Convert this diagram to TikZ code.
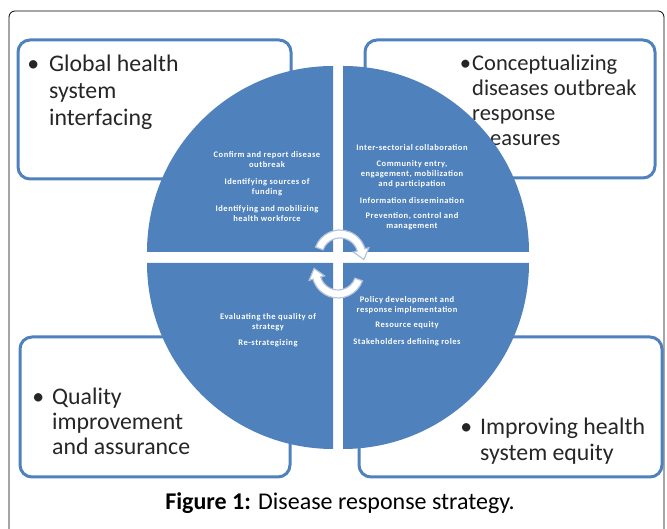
\documentclass[tikz,border=0pt]{standalone}
\usepackage{fontspec}
\setmainfont{Carlito}
\usetikzlibrary{calc}
\definecolor{pieblue}{HTML}{4F81BD}
\definecolor{turnedge}{HTML}{B4C4DC}

\begin{document}
\begin{tikzpicture}[x=1pt,y=1pt,
  box/.style={draw=pieblue, line width=3pt, rounded corners=12pt, fill=white},
  bigtext/.style={anchor=north west, inner sep=0pt, align=left, text=black!85},
  smalltext/.style={inner sep=0pt, align=center, text=white,
    font=\fontsize{8.5}{10}\selectfont\bfseries\addfontfeatures{LetterSpace=6}},
  turn/.style={fill=white, draw=turnedge, line width=1.2pt}]
\useasboundingbox (0,0) rectangle (667,529);
\draw[rounded corners=6pt, line width=0.8pt] (9,-10) rectangle (664,518);

\draw[box] (18,350) rectangle (291,489);
\draw[box] (365,351) rectangle (655,489);
\draw[box] (20,52) rectangle (290,192);
\draw[box] (359,52) rectangle (662,192);

\node[bigtext, font=\fontsize{23.8}{27}\selectfont] (global) at (49,474)
  {\llap{\textbullet\hspace{10pt}}Global health\\system\\interfacing};
\node[bigtext, font=\fontsize{22.5}{25}\selectfont] (concept) at (472,474)
  {\llap{\textbullet\hspace{1pt}}Conceptualizing\\diseases outbreak\\response\\measures};
\node[bigtext, font=\fontsize{23.8}{25}\selectfont] (quality) at (52,141)
  {\llap{\textbullet\hspace{8pt}}Quality\\improvement\\and assurance};
\node[bigtext, font=\fontsize{23.8}{26}\selectfont] (equity) at (480,111)
  {\llap{\textbullet\hspace{8pt}}Improving health\\system equity};

\fill[pieblue] (333,277) -- ++(-186,0) arc (180:90:186pt) -- cycle;
\fill[pieblue] (343,277) -- ++(186,0) arc (0:90:186pt) -- cycle;
\fill[pieblue] (333,266) -- ++(-186,0) arc (180:270:186pt) -- cycle;
\fill[pieblue] (343,266) -- ++(186,0) arc (0:-90:186pt) -- cycle;

\node[smalltext] (confirm) at (267,342)
  {Confirm and report disease\\outbreak\\[7pt]Identifying sources of\\funding\\[7pt]%
   Identifying and mobilizing\\health workforce};
\node[smalltext] (intersect) at (412,342)
  {Inter-sectorial collaboration\\[6pt]Community entry,\\engagement, mobilization\\%
   and participation\\[7pt]Information dissemination\\[5pt]Prevention, control and\\management};
\node[smalltext] (evaluate) at (268,199)
  {Evaluating the quality of\\strategy\\[6pt]Re-strategizing};
\node[smalltext] (policy) at (407,208)
  {Policy development and\\response implementation\\[5pt]Resource equity\\[7pt]%
   Stakeholders defining roles};

\begin{scope}[shift={(340,273)}]
  \draw[turn] (160:26pt) arc (160:16:26pt) -- (16:30pt) -- ($(16:22pt)+(-74:10pt)$)
    -- (16:14pt) -- (16:18pt) arc (16:160:18pt) -- cycle;
\end{scope}
\begin{scope}[shift={(338,257)}]
  \draw[turn] (-20:26pt) arc (-20:-164:26pt) -- (-164:30pt) -- ($(-164:22pt)+(106:10pt)$)
    -- (-164:14pt) -- (-164:18pt) arc (-164:-20:18pt) -- cycle;
\end{scope}

\node[font=\fontsize{24}{28}\selectfont] (caption) at (340,26)
  {\textbf{Figure 1:} Disease response strategy.};
\end{tikzpicture}
\end{document}
